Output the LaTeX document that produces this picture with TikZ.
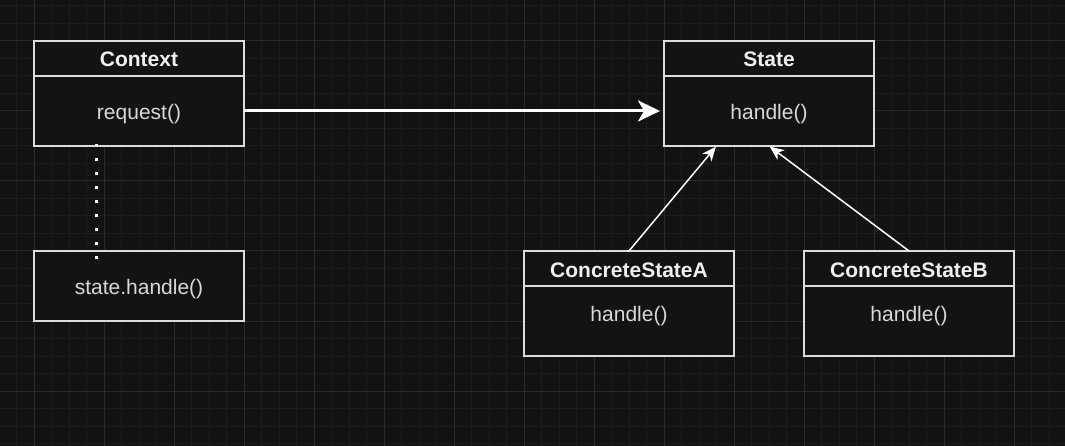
\documentclass[tikz,border=0pt]{standalone}
\usepackage{fontspec}
\setmainfont{Liberation Sans}
\usetikzlibrary{arrows.meta, positioning, calc}
\definecolor{bg}{HTML}{121212}
\definecolor{gridminor}{HTML}{1C1C1C}
\definecolor{gridmajor}{HTML}{2A2A2A}
\definecolor{boxfill}{HTML}{131313}
\definecolor{boxline}{HTML}{DCDCDC}
\definecolor{headtext}{HTML}{F0F0F0}
\definecolor{bodytext}{HTML}{D8D8D8}
\tikzset{
    box/.style={draw=boxline, fill=boxfill, line width=2pt, outer sep=0pt, minimum width=210pt, inner sep=0pt,
        font=\fontsize{21pt}{25pt}\selectfont}, % 类框的通用样式
    classhead/.style={box, minimum height=35pt, text=headtext, text height=17pt, text depth=0pt,
        font=\fontsize{21pt}{25pt}\selectfont\bfseries},
    classbody/.style={box, minimum height=70pt, text=bodytext, text height=19pt, text depth=2pt},
    toptext/.style={text height=18pt, text depth=17pt} % 文字靠上
}
\begin{document}
\begin{tikzpicture}[x=1pt, y=-1pt]
    \useasboundingbox (0,0) rectangle (1065,446);
    \fill[bg] (0,0) rectangle (1065,446);

    % 背景网格
    \foreach \i in {0,...,59} {\draw[gridminor, line width=1pt] ({16.8+17.5*\i},0) -- ++(0,446);}
    \foreach \j in {0,...,25} {\draw[gridminor, line width=1pt] (0,{6+17.5*\j}) -- ++(1065,0);}
    \foreach \k in {0,...,14} {\draw[gridmajor, line width=1pt] ({34.3+70*\k},0) -- ++(0,446);}
    \foreach \k in {0,...,5} {\draw[gridmajor, line width=1pt] (0,{41+70*\k}) -- ++(1065,0);}

    % 类
    \node[classhead] (ctxhead) at (139,58.5) {Context};
    \node[classbody, below=0pt of ctxhead] (ctxbody) {request()};
    \node[classbody] (note) at (139,286) {state.handle()};

    \node[classhead] (sthead) at (769,58.5) {State};
    \node[classbody, below=0pt of sthead] (stbody) {handle()};

    \node[classhead] (csahead) at (629,268.5) {ConcreteStateA};
    \node[classbody, toptext, below=0pt of csahead] (csabody) {handle()};

    \node[classhead] (csbhead) at (909,268.5) {ConcreteStateB};
    \node[classbody, toptext, below=0pt of csbhead] (csbbody) {handle()};

    % 连线
    \coordinate (dotstart) at (96,144.5);
    \coordinate (dotend) at (96,259.5);
    \draw[white, line width=3pt, dash pattern=on 3pt off 11pt] (dotstart) -- (dotend);

    \draw[white, line width=3pt, shorten >=4pt, -{Stealth[length=22pt, width=21pt, inset=6pt]}] (ctxbody) -- (stbody);
    \draw[white, line width=1.5pt, shorten >=1pt, -{Stealth[length=14pt, width=12pt, inset=4pt]}]
        (csahead.north) -- ($(stbody.south)!0.5!(stbody.south west)$);
    \draw[white, line width=1.5pt, shorten >=1pt, -{Stealth[length=14pt, width=12pt, inset=4pt]}]
        (csbhead.north) -- (stbody.south);
\end{tikzpicture}
\end{document}
